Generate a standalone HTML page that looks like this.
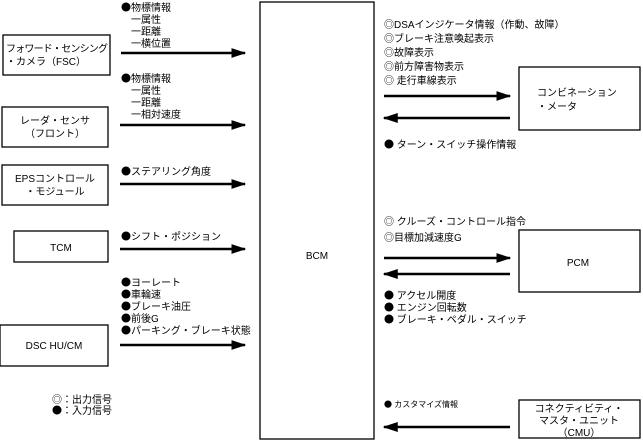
<!DOCTYPE html>
<html><head><meta charset="utf-8"><style>
html,body{margin:0;padding:0;background:#fff;}
svg text{font-family:"Liberation Sans","Noto Sans CJK JP",sans-serif;font-size:10px;fill:#000;}
svg tspan.b{font-family:"Noto Sans CJK JP",sans-serif;}
</style></head><body>
<svg width="643" height="441" viewBox="0 0 643 441" xmlns="http://www.w3.org/2000/svg">
<defs>
<marker id="a" markerWidth="6" markerHeight="4" refX="5.5" refY="2" orient="auto" markerUnits="strokeWidth"><path d="M0,0 L6,2 L0,4 Z" fill="#000"/></marker>
</defs>
<g fill="none" stroke="#000" stroke-width="1.3">
<rect x="260" y="2" width="114" height="437"/>
<rect x="3" y="35" width="107" height="40"/>
<rect x="2" y="107" width="106" height="40"/>
<rect x="2" y="165" width="106" height="40"/>
<rect x="14" y="231" width="94" height="31"/>
<rect x="0" y="325" width="108" height="41"/>
<rect x="519" y="67" width="121" height="63"/>
<rect x="519" y="230" width="121" height="62"/>
<rect x="519" y="400" width="121" height="38"/>
</g>
<g stroke="#000" stroke-width="2.5" marker-end="url(#a)">
<line x1="121" y1="53" x2="245" y2="53"/>
<line x1="120" y1="125" x2="245" y2="125"/>
<line x1="120" y1="184" x2="245" y2="184"/>
<line x1="120" y1="249" x2="245" y2="249"/>
<line x1="120" y1="345" x2="245" y2="345"/>
<line x1="384" y1="96" x2="510" y2="96"/>
<line x1="510" y1="118" x2="384" y2="118"/>
<line x1="384" y1="258" x2="510" y2="258"/>
<line x1="510" y1="274" x2="384" y2="274"/>
<line x1="510" y1="427" x2="384" y2="427"/>
</g>
<text x="121" y="11"><tspan class="b">●</tspan>物標情報</text>
<text x="131" y="23">一属性</text>
<text x="131" y="35">一距離</text>
<text x="131" y="47">一横位置</text>
<text x="6" y="52" textLength="102">フォワード・センシング</text>
<text x="6" y="65">・カメラ（FSC）</text>
<text x="121" y="82"><tspan class="b">●</tspan>物標情報</text>
<text x="131" y="94">一属性</text>
<text x="131" y="106">一距離</text>
<text x="131" y="118">一相対速度</text>
<text x="55" y="124" text-anchor="middle">レーダ・センサ</text>
<text x="55" y="137" text-anchor="middle">（フロント）</text>
<text x="121" y="175"><tspan class="b">●</tspan>ステアリング角度</text>
<text x="55" y="182" text-anchor="middle">EPSコントロール</text>
<text x="55" y="195" text-anchor="middle">・モジュール</text>
<text x="121" y="240"><tspan class="b">●</tspan>シフト・ポジション</text>
<text x="61" y="251" text-anchor="middle">TCM</text>
<text x="121" y="286"><tspan class="b">●</tspan>ヨーレート</text>
<text x="121" y="298"><tspan class="b">●</tspan>車輪速</text>
<text x="121" y="310"><tspan class="b">●</tspan>ブレーキ油圧</text>
<text x="121" y="322"><tspan class="b">●</tspan>前後G</text>
<text x="121" y="334"><tspan class="b">●</tspan>パーキング・ブレーキ状態</text>
<text x="54" y="349" text-anchor="middle">DSC HU/CM</text>
<text x="52" y="403"><tspan class="b">◎</tspan>：出力信号</text>
<text x="52" y="414"><tspan class="b">●</tspan>：入力信号</text>
<text x="317" y="259" text-anchor="middle">BCM</text>
<text x="384" y="28"><tspan class="b">◎</tspan>DSAインジケータ情報（作動、故障）</text>
<text x="384" y="42"><tspan class="b">◎</tspan>ブレーキ注意喚起表示</text>
<text x="384" y="56"><tspan class="b">◎</tspan>故障表示</text>
<text x="384" y="70"><tspan class="b">◎</tspan>前方障害物表示</text>
<text x="384" y="84"><tspan class="b">◎</tspan> 走行車線表示</text>
<text x="537" y="96">コンビネーション</text>
<text x="537" y="110">・メータ</text>
<text x="384" y="148"><tspan class="b">●</tspan> ターン・スイッチ操作情報</text>
<text x="384" y="225"><tspan class="b">◎</tspan> クルーズ・コントロール指令</text>
<text x="384" y="241"><tspan class="b">◎</tspan>目標加減速度G</text>
<text x="578" y="266" text-anchor="middle">PCM</text>
<text x="384" y="299"><tspan class="b">●</tspan> アクセル開度</text>
<text x="384" y="311"><tspan class="b">●</tspan> エンジン回転数</text>
<text x="384" y="323"><tspan class="b">●</tspan> ブレーキ・ペダル・スイッチ</text>
<text x="384" y="407" style="font-size:8px"><tspan class="b">●</tspan> カスタマイズ情報</text>
<text x="579" y="412" text-anchor="middle">コネクティビティ・</text>
<text x="579" y="424" text-anchor="middle">マスタ・ユニット</text>
<text x="579" y="436" text-anchor="middle">（CMU）</text>
</svg>
</body></html>
